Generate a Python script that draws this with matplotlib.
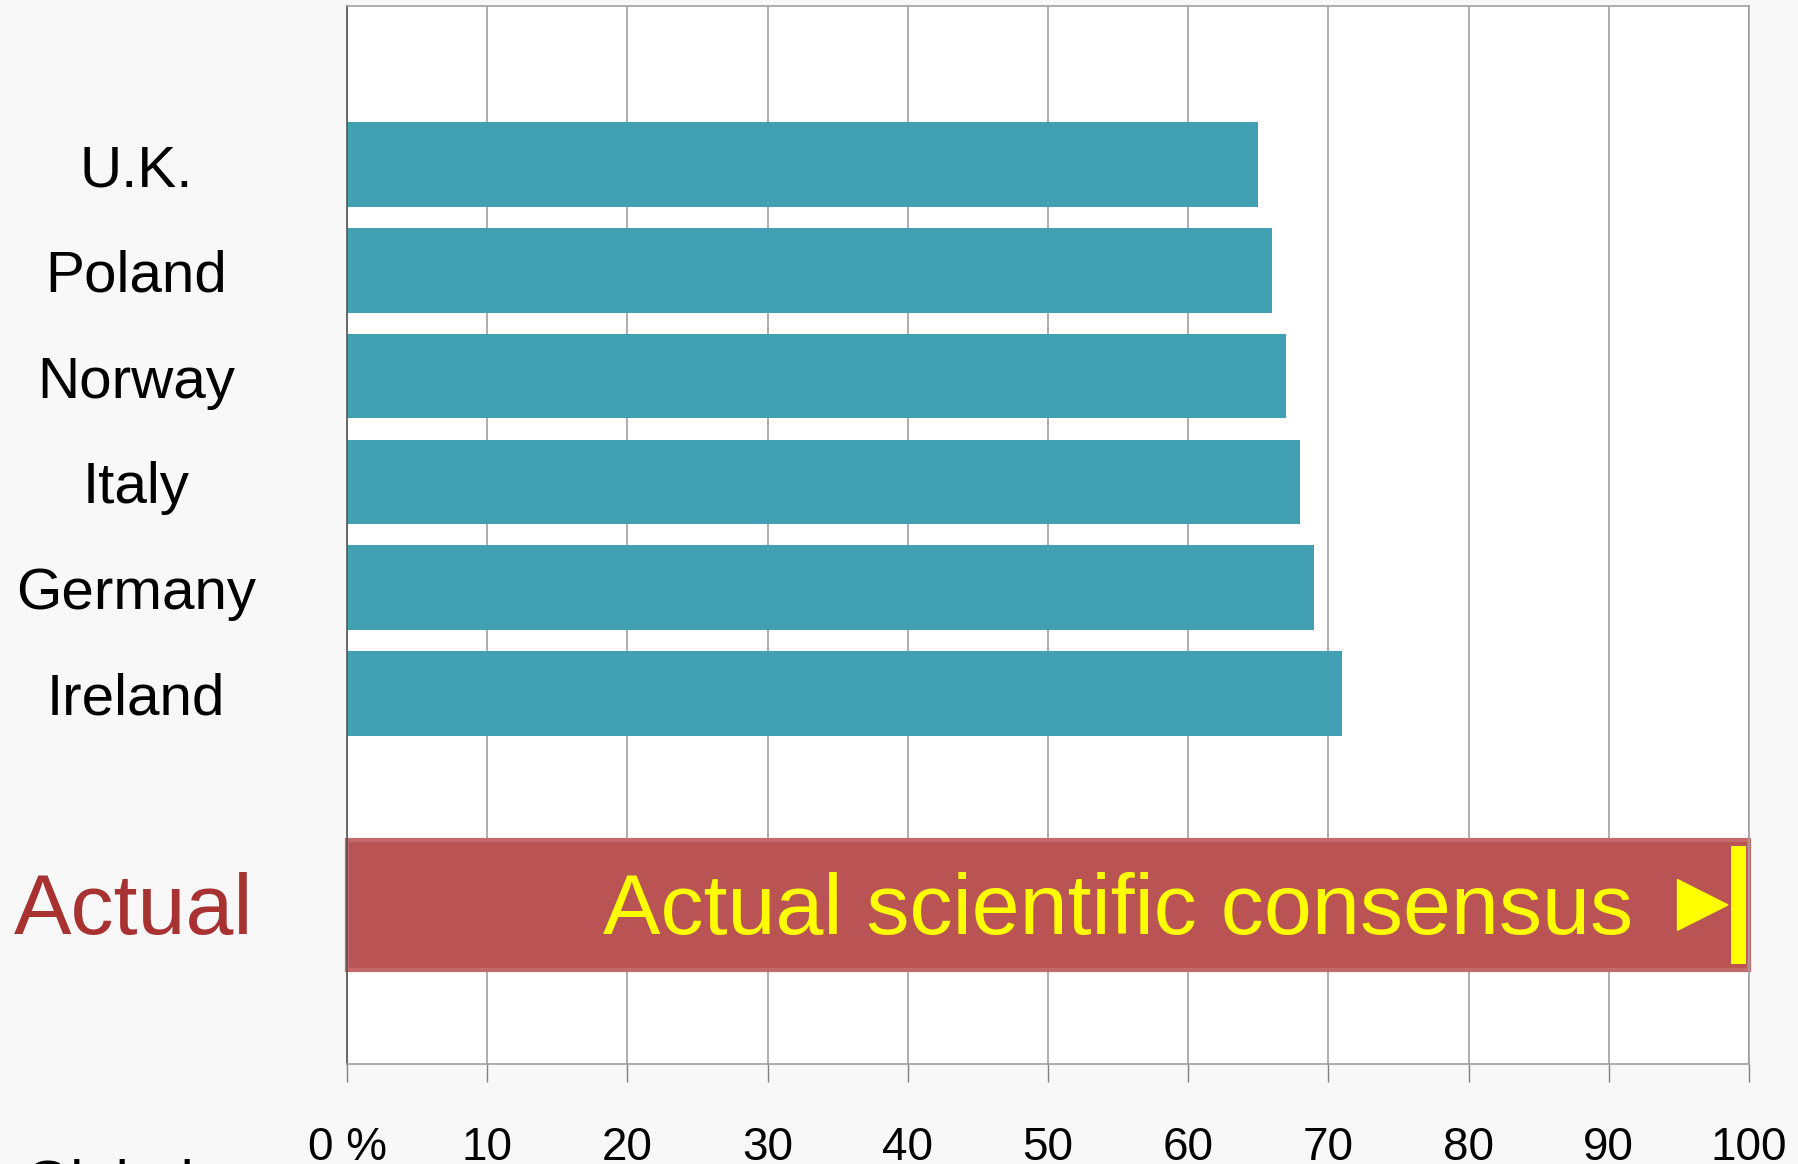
import numpy as np
import matplotlib
matplotlib.use('Agg')
import matplotlib.pyplot as plt
from matplotlib.patches import Polygon
import matplotlib.transforms as mtransforms

plt.rcParams['font.family'] = ['Liberation Sans', 'DejaVu Sans']

# survey results (% who think scientists agree)
countries = ['U.K.', 'Poland', 'Norway', 'Italy', 'Germany', 'Ireland']
perceived = [65, 66, 67, 68, 69, 71]
consensus = 100
xticks = [0, 10, 20, 30, 40, 50, 60, 70, 80, 90, 100]
xticklabels = ['0 %', '10', '20', '30', '40', '50', '60', '70', '80', '90', '100']

TEAL = '#41a0b1'
RED_BAR = '#ba5454'
RED_TXT = '#a83232'
YELLOW = '#ffff00'

fig = plt.figure(figsize=(17.99, 11.64), dpi=100, facecolor='#f8f8f8')
ax = fig.add_axes([0.1929, 0.0863, 0.7793, 0.9085])
ax.set_facecolor('white')

ypos = np.arange(len(countries))
ax.barh(ypos, perceived, height=0.8, color=TEAL, zorder=2)

# consensus bar sits two rows below the last country
y_act = ypos[-1] + 2
ax.barh(y_act, consensus, height=1.23, color=RED_BAR, edgecolor='#c46a6a',
        linewidth=3, zorder=2, clip_on=False)
ax.text(consensus - 8.3, y_act + 0.07, 'Actual scientific consensus', color=YELLOW,
        fontsize=62, ha='right', va='center', zorder=3)
tri = Polygon([[consensus - 5.1, y_act - 0.24], [consensus - 5.1, y_act + 0.24],
               [consensus - 1.5, y_act]], closed=True, color=YELLOW, zorder=3)
ax.add_patch(tri)
ax.barh(y_act, 1.1, left=consensus - 1.3, height=1.12, color=YELLOW, zorder=3)

ax.set_xlim(0, 100)
ax.set_ylim(8.5, -1.5)
ax.set_xticks(xticks)
ax.set_xticklabels(xticklabels, fontsize=33)
ax.tick_params(axis='x', length=13, width=1, color='#808080', pad=32)
ax.set_yticks([])
ax.grid(axis='x', color='#a0a0a0', linewidth=1.2, zorder=0)
ax.set_axisbelow(True)
for side in ['top', 'right', 'bottom']:
    ax.spines[side].set_color('#a0a0a0')
    ax.spines[side].set_linewidth(1.2)
ax.spines['left'].set_color('#555555')
ax.spines['left'].set_linewidth(1.2)

# row labels to the left of the plot
trans = mtransforms.blended_transform_factory(fig.transFigure, ax.transData)
for y, name in zip(ypos, countries):
    ax.text(0.0755, y + 0.06, name, transform=trans, fontsize=42, ha='center',
            va='center', clip_on=False)
ax.text(0.0745, y_act + 0.07, 'Actual', transform=trans, fontsize=62, color=RED_TXT,
        ha='center', va='center', clip_on=False)
fig.text(0.014, 0.004, 'Global average', fontsize=42, ha='left', va='top')

fig.savefig('out.png', dpi=100, facecolor=fig.get_facecolor())
